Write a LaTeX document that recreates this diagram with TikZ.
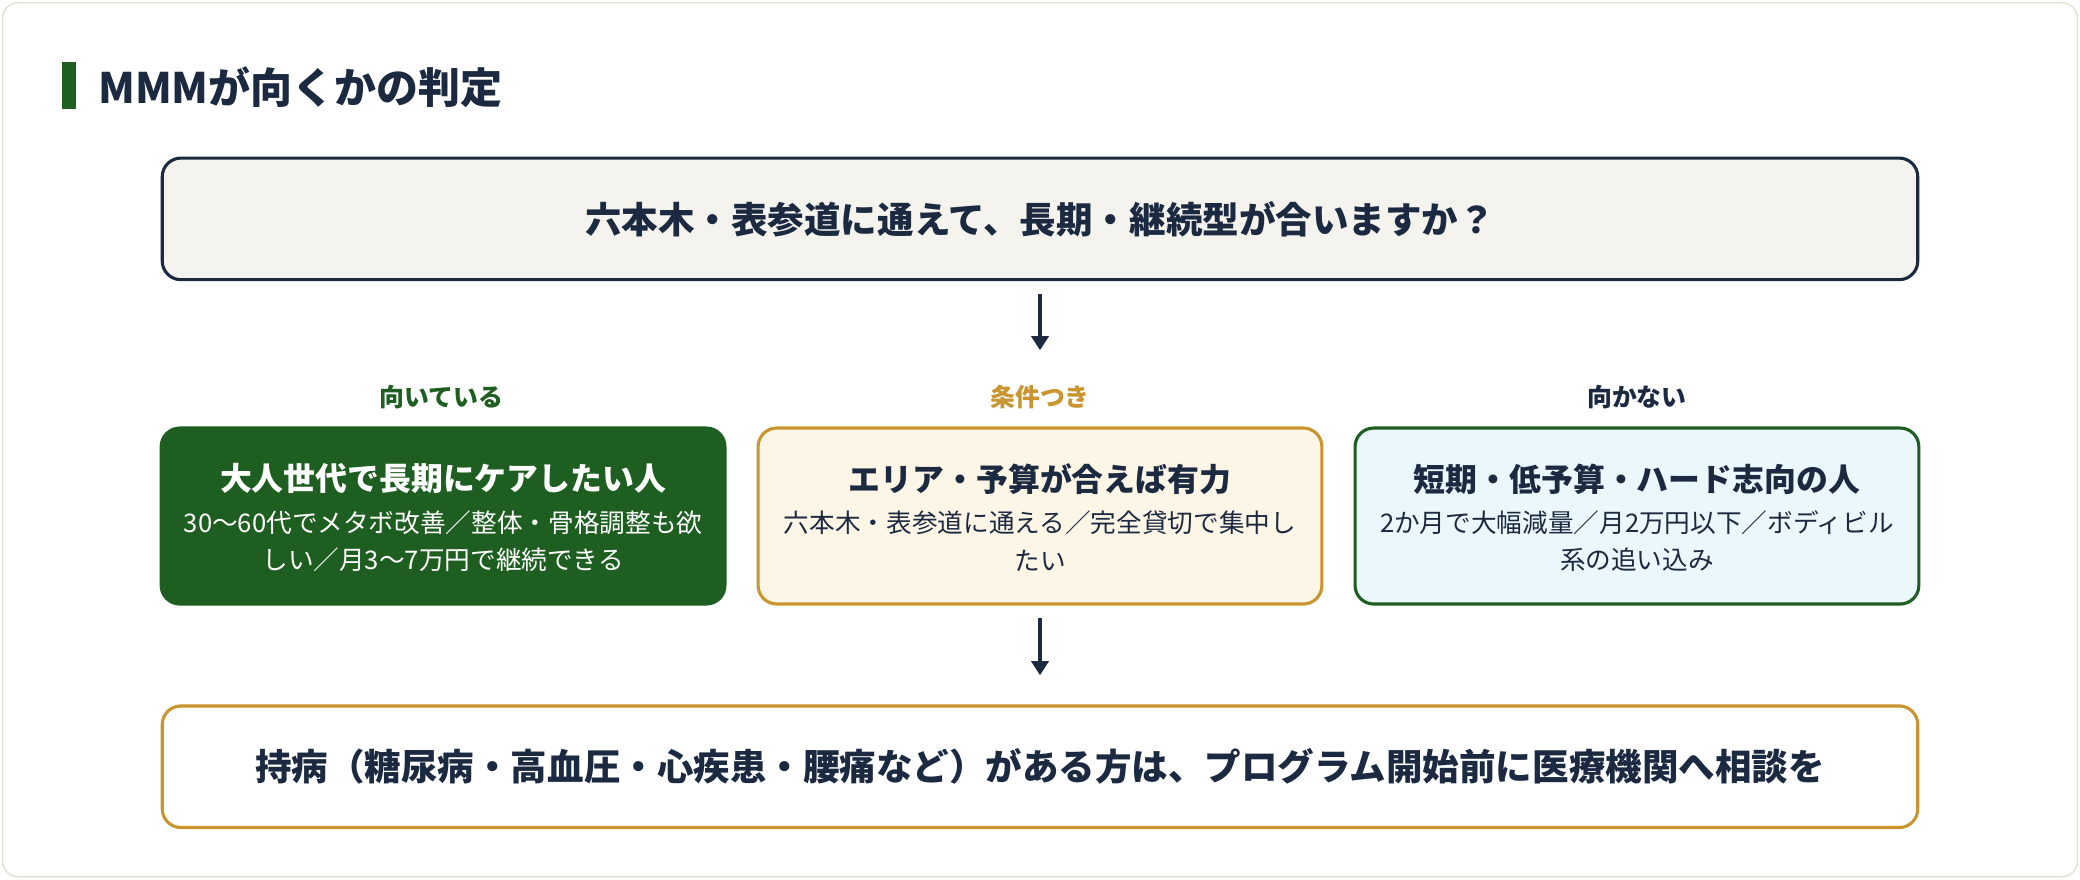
\documentclass[tikz,border=0pt]{standalone}
\usepackage{fontspec}
\setmainfont{Noto Sans CJK JP}
\usetikzlibrary{arrows.meta,positioning}
\definecolor{navy}{HTML}{1B2A41}
\definecolor{leaf}{HTML}{1E5E20}
\definecolor{gold}{HTML}{C8952E}
\definecolor{cream}{HTML}{FDF5E6}
\definecolor{paper}{HTML}{F5F3EE}
\definecolor{ice}{HTML}{EAF7FC}
\definecolor{edge}{HTML}{E4E2D4}
\begin{document}
\begin{tikzpicture}[x=0.03cm,y=-0.03cm,
    box/.style={rounded corners=12pt,line width=2pt,align=center,minimum height=2.7cm},
    wide/.style={box,minimum width=39.7cm,minimum height=2.75cm},
    pick/.style={box,minimum width=12.75cm,minimum height=3.98cm},
    head/.style={font=\bfseries\fontsize{20.5}{24}\selectfont},
    sub/.style={font=\fontsize{16.5}{24}\selectfont},
    tag/.style={font=\bfseries\fontsize{16}{18}\selectfont},
    down/.style={-{Triangle[length=9pt,width=11pt]},line width=2pt,navy}]
  \useasboundingbox (0,0) rectangle (1568,663);
  \draw[edge,fill=white,rounded corners=10pt,line width=1pt] (2,2) rectangle (1566,661);
  \fill[leaf] (47,47) rectangle (57,82);
  \node[anchor=west,text=navy,font=\bfseries\fontsize{27}{30}\selectfont] (title) at (70,66) {MMMが向くかの判定};
  % question
  \node[wide,draw=navy,fill=paper,text=navy,font=\bfseries\fontsize{23.5}{26}\selectfont] (ask) at (784,165) {六本木・表参道に通えて、長期・継続型が合いますか？};
  \coordinate (a1) at (784,222);
  \coordinate (a2) at (784,264);
  \draw[down] (a1) -- (a2);
  % three cases
  \node[tag,text=leaf] (t1) at (333,299) {向いている};
  \node[tag,text=gold] (t2) at (784,299) {条件つき};
  \node[tag,text=navy] (t3) at (1234,299) {向かない};
  \node[pick,fill=leaf,draw=leaf,text=white] (good) at (334,389) {};
  \node[pick,fill=cream,draw=gold,text=navy] (maybe) at (784,389) {};
  \node[pick,fill=ice,draw=leaf,text=navy] (bad) at (1234,389) {};
  \node[head,text=white] at (334,361) {大人世代で長期にケアしたい人};
  \node[sub,text=white,align=center] at (334,408) {30〜60代でメタボ改善／整体・骨格調整も欲\\しい／月3〜7万円で継続できる};
  \node[head,text=navy] at (784,361) {エリア・予算が合えば有力};
  \node[sub,text=navy,align=center] at (784,408) {六本木・表参道に通える／完全貸切で集中し\\たい};
  \node[head,text=navy] at (1234,361) {短期・低予算・ハード志向の人};
  \node[sub,text=navy,align=center] at (1234,408) {2か月で大幅減量／月2万円以下／ボディビル\\系の追い込み};
  \coordinate (b1) at (784,466);
  \coordinate (b2) at (784,509);
  \draw[down] (b1) -- (b2);
  % note
  \node[wide,draw=gold,fill=white,text=navy,font=\bfseries\fontsize{23.5}{26}\selectfont] (note) at (784,578) {持病（糖尿病・高血圧・心疾患・腰痛など）がある方は、プログラム開始前に医療機関へ相談を};
\end{tikzpicture}
\end{document}
